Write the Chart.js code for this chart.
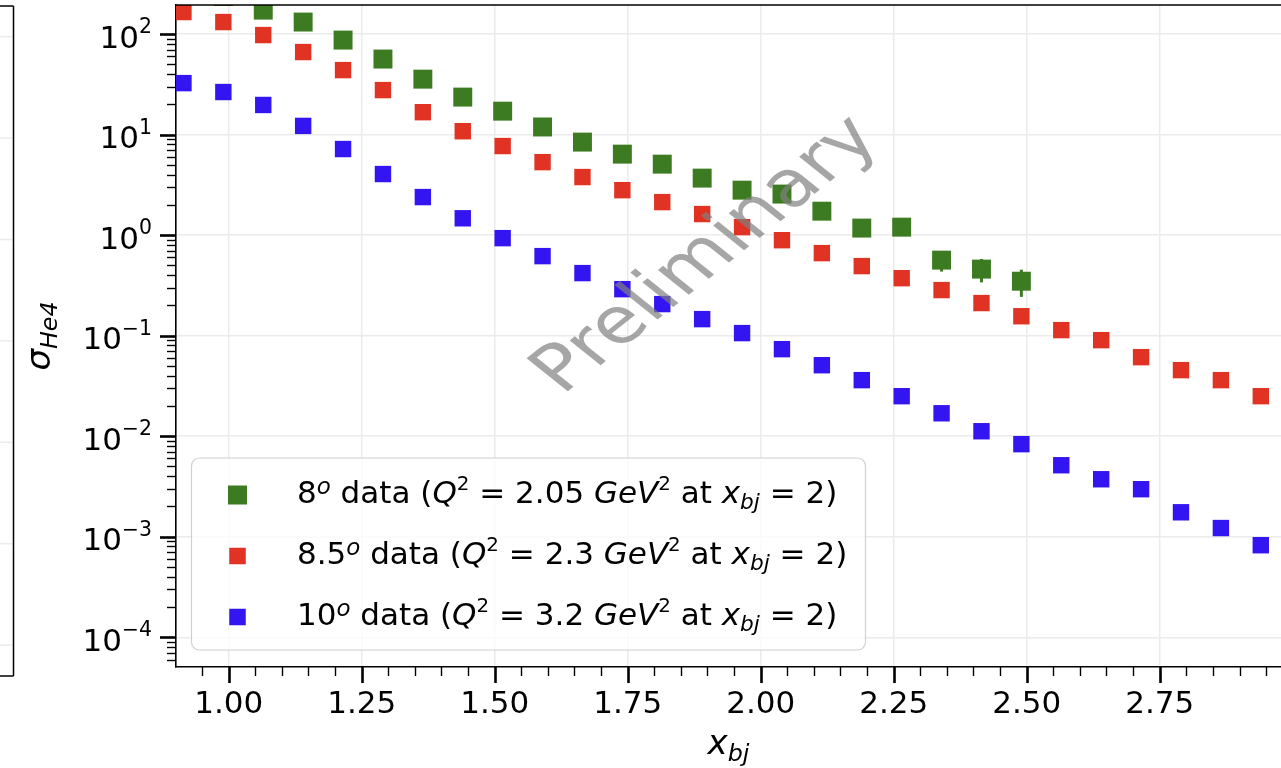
<!DOCTYPE html>
<html>
<head>
<meta charset="utf-8">
<script src="https://cdn.jsdelivr.net/npm/chart.js@4.4.1/dist/chart.umd.min.js"></script>
<style>
  html, body { margin: 0; padding: 0; background: #fff; }
  #wrap { width: 1281px; height: 768px; }
</style>
</head>
<body>
<div id="wrap"><canvas id="grafico" width="1281" height="768"></canvas></div>
<script>
// Bins en x_bj
const xbj = [0.915, 0.990, 1.065, 1.140, 1.215, 1.290, 1.365, 1.440, 1.515, 1.590,
             1.665, 1.740, 1.815, 1.890, 1.965, 2.040, 2.115, 2.190, 2.265, 2.340,
             2.415, 2.490, 2.565, 2.640, 2.715, 2.790, 2.865, 2.940];

// Seccion eficaz He4 por angulo (null = sin dato)
const sigma8 = [null, 236, 173, 131.6, 87.1, 56.4, 35.6, 23.6, 17.1, 11.9,
                8.42, 6.39, 5.08, 3.69, 2.80, 2.56, 1.73, 1.175, 1.20, 0.564,
                0.459, 0.348, null, null, null, null, null, null];
const sigma8Err = [0, 0, 0, 0, 0, 0, 0, 0, 0, 0,
                   0, 0, 0, 0, 0, 0, 0, 0, 0, 0.13,
                   0.12, 0.105, 0, 0, 0, 0, 0, 0];
const sigma85 = [165.5, 131.6, 97.7, 66.2, 43.8, 27.7, 16.7, 10.8, 7.69, 5.32,
                 3.78, 2.80, 2.13, 1.62, 1.20, 0.89, 0.662, 0.492, 0.373, 0.284,
                 0.211, 0.156, 0.1135, 0.0902, 0.0611, 0.0454, 0.0361, 0.0250];
const sigma10 = [32.5, 26.5, 19.7, 12.2, 7.18, 4.05, 2.39, 1.47, 0.933, 0.618,
                 0.419, 0.290, 0.206, 0.146, 0.106, 0.0734, 0.0508, 0.0361, 0.0250, 0.0169,
                 0.0112, 0.00833, 0.00514, 0.00373, 0.00297, 0.00175, 0.00122, 0.000823];

// Ejes
const xTicks = [1.00, 1.25, 1.50, 1.75, 2.00, 2.25, 2.50, 2.75];
const xTickLabels = ['1.00', '1.25', '1.50', '1.75', '2.00', '2.25', '2.50', '2.75'];
const yTicks = [1e-4, 1e-3, 1e-2, 1e-1, 1, 10, 100];
const yTickExp = ['\u22124', '\u22123', '\u22122', '\u22121', '0', '1', '2'];
const xRange = [0.901, 2.978];
const yRange = [5.06e-5, 194.5];

// Leyenda: [texto, estilo]
const legendLabels = [
  [['8', 'n'], ['o', 'supo'], [' data (', 'n'], ['Q', 'i'], ['2', 'sup'], [' = 2.05 ', 'n'],
   ['GeV', 'i'], ['2', 'sup'], [' at ', 'n'], ['x', 'i'], ['bj', 'sub'], [' = 2)', 'n']],
  [['8.5', 'n'], ['o', 'supo'], [' data (', 'n'], ['Q', 'i'], ['2', 'sup'], [' = 2.3 ', 'n'],
   ['GeV', 'i'], ['2', 'sup'], [' at ', 'n'], ['x', 'i'], ['bj', 'sub'], [' = 2)', 'n']],
  [['10', 'n'], ['o', 'supo'], [' data (', 'n'], ['Q', 'i'], ['2', 'sup'], [' = 3.2 ', 'n'],
   ['GeV', 'i'], ['2', 'sup'], [' at ', 'n'], ['x', 'i'], ['bj', 'sub'], [' = 2)', 'n']]
];

const colores = ['#3d7b22', '#e03324', '#3215f0'];
const FONT = '"DejaVu Sans"';

const runStyle = {
  n:    { it: false, k: 1,    dy: 0 },
  i:    { it: true,  k: 1,    dy: 0 },
  sup:  { it: false, k: 0.64, dy: -0.42 },
  supo: { it: true,  k: 0.74, dy: -0.3 },
  tsup: { it: false, k: 0.66, dy: -0.47 },
  sub:  { it: true,  k: 0.7,  dy: 0.2 }
};

// Dibuja texto con partes en cursiva / super / subindice
function drawRuns(ctx, runs, x, y, F, align) {
  const parts = runs.map(([t, s]) => {
    const st = runStyle[s];
    return { t, font: (st.it ? 'italic ' : '') + (F * st.k) + 'px ' + FONT, dy: st.dy * F };
  });
  let w = 0;
  parts.forEach(p => { ctx.font = p.font; p.w = ctx.measureText(p.t).width; w += p.w; });
  let cx = align === 'right' ? x - w : align === 'center' ? x - w / 2 : x;
  ctx.textAlign = 'left';
  ctx.textBaseline = 'alphabetic';
  parts.forEach(p => { ctx.font = p.font; ctx.fillText(p.t, cx, y + p.dy); cx += p.w; });
  return w;
}

function linea(ctx, x1, y1, x2, y2, w, color) {
  ctx.beginPath();
  ctx.lineWidth = w;
  ctx.strokeStyle = color || '#000';
  ctx.moveTo(x1, y1);
  ctx.lineTo(x2, y2);
  ctx.stroke();
}

function puntos(valores) {
  return xbj.map((x, i) => ({ x: x, y: valores[i] })).filter(p => p.y !== null);
}

// Panel vecino recortado a la izquierda
const panelIzquierdo = {
  id: 'panelIzquierdo',
  beforeDraw(chart) {
    const ctx = chart.ctx;
    ctx.save();
    for (let k = 0; k < 7; k++) {
      const gy = 36.7 + k * 101.4;
      linea(ctx, 0, gy, 12, gy, 1.5, '#ebebeb');
    }
    linea(ctx, 13.5, 6, 13.5, 676, 1.5);
    linea(ctx, 0, 6, 13.5, 6, 1.5);
    linea(ctx, 0, 676, 13.5, 676, 1.5);
    ctx.restore();
  }
};

// Barras de error del set de 8 grados
const barrasError = {
  id: 'barrasError',
  beforeDatasetsDraw(chart) {
    const ctx = chart.ctx, xs = chart.scales.x, ys = chart.scales.y, ca = chart.chartArea;
    ctx.save();
    ctx.beginPath();
    ctx.rect(ca.left, ca.top, ca.right - ca.left, ca.bottom - ca.top);
    ctx.clip();
    xbj.forEach((x, i) => {
      const v = sigma8[i], e = sigma8Err[i];
      if (v === null || !e) return;
      const px = xs.getPixelForValue(x);
      linea(ctx, px, ys.getPixelForValue(v + e), px, ys.getPixelForValue(v - e), 3, colores[0]);
    });
    ctx.restore();
  }
};

// Marca de agua
const marcaAgua = {
  id: 'marcaAgua',
  afterDatasetsDraw(chart) {
    const ctx = chart.ctx;
    ctx.save();
    ctx.translate(722, 268);
    ctx.scale(1.25, 1);
    ctx.rotate(-Math.PI / 4);
    ctx.font = '64px ' + FONT;
    ctx.fillStyle = 'rgba(128,128,128,0.7)';
    ctx.textAlign = 'center';
    ctx.textBaseline = 'alphabetic';
    ctx.fillText('Preliminary', 0, 0);
    ctx.restore();
  }
};

// Ticks estilo matplotlib, etiquetas del eje y, titulos y leyenda
const decoracion = {
  id: 'decoracion',
  afterDraw(chart) {
    const ctx = chart.ctx, xs = chart.scales.x, ys = chart.scales.y, ca = chart.chartArea;
    ctx.save();
    // borde superior
    linea(ctx, ca.left, ca.top, ca.right, ca.top, 1.6);

    // ticks y
    yTicks.forEach(v => {
      const py = Math.round(ys.getPixelForValue(v)) + 0.5;
      linea(ctx, ca.left - 16, py, ca.left, py, 2.6);
    });
    const e0 = Math.floor(Math.log10(yRange[0])), e1 = Math.ceil(Math.log10(yRange[1]));
    for (let e = e0; e <= e1; e++) {
      for (let m = 2; m <= 9; m++) {
        const v = m * Math.pow(10, e);
        if (v < yRange[0] || v > yRange[1]) continue;
        const py = Math.round(ys.getPixelForValue(v)) + 0.5;
        linea(ctx, ca.left - 9, py, ca.left, py, 1.4);
      }
    }
    // ticks x
    xTicks.forEach(v => {
      const px = Math.round(xs.getPixelForValue(v)) + 0.5;
      linea(ctx, px, ca.bottom, px, ca.bottom + 16, 2.6);
    });
    for (let k = Math.ceil(xRange[0] / 0.05); k * 0.05 <= xRange[1]; k++) {
      if (k % 5 === 0) continue;
      const px = Math.round(xs.getPixelForValue(k * 0.05)) + 0.5;
      linea(ctx, px, ca.bottom, px, ca.bottom + 9, 1.4);
    }

    // etiquetas y
    ctx.fillStyle = '#000';
    yTicks.forEach((v, i) => {
      const py = ys.getPixelForValue(v);
      drawRuns(ctx, [['10', 'n'], [yTickExp[i], 'tsup']], 152, py + 13.5, 31, 'right');
    });

    // titulos
    drawRuns(ctx, [['x', 'i'], ['bj', 'sub']], (ca.left + ca.right) / 2, 754, 34, 'center');
    ctx.save();
    ctx.translate(50, (ca.top + ca.bottom) / 2);
    ctx.rotate(-Math.PI / 2);
    drawRuns(ctx, [['\u03c3', 'i'], ['He4', 'sub']], 0, 0, 34, 'center');
    ctx.restore();

    // leyenda
    ctx.beginPath();
    ctx.roundRect(191.5, 458, 674, 192, 8);
    ctx.fillStyle = 'rgba(255,255,255,0.8)';
    ctx.fill();
    ctx.lineWidth = 1.2;
    ctx.strokeStyle = '#d0d0d0';
    ctx.stroke();
    const lados = [19, 16.5, 16.5];
    legendLabels.forEach((runs, i) => {
      const base = 503 + i * 61;
      const s = lados[i];
      ctx.fillStyle = colores[i];
      ctx.fillRect(237.5 - s / 2, base - 8 - s / 2, s, s);
      ctx.fillStyle = '#000';
      drawRuns(ctx, runs, 297, base, 31, 'left');
    });
    ctx.restore();
  }
};

document.addEventListener('DOMContentLoaded', function() {
  const ctx = document.getElementById('grafico').getContext('2d');

  new Chart(ctx, {
    type: 'scatter',
    data: {
      datasets: [
        { label: '8 deg', data: puntos(sigma8), backgroundColor: colores[0], pointRadius: 13.4 },
        { label: '8.5 deg', data: puntos(sigma85), backgroundColor: colores[1], pointRadius: 11.6 },
        { label: '10 deg', data: puntos(sigma10), backgroundColor: colores[2], pointRadius: 11.6 }
      ].map(d => Object.assign(d, {
        pointStyle: 'rect',
        borderWidth: 0,
        pointHoverRadius: d.pointRadius,
        clip: 0
      }))
    },
    options: {
      responsive: false,
      animation: false,
      events: [],
      layout: { autoPadding: false, padding: { top: 5, left: 0, right: 0, bottom: 0 } },
      plugins: {
        legend: { display: false },
        tooltip: { enabled: false }
      },
      scales: {
        x: {
          type: 'linear',
          min: xRange[0],
          max: xRange[1],
          bounds: 'data',
          afterBuildTicks: axis => { axis.ticks = xTicks.map(v => ({ value: v })); },
          afterFit: axis => { axis.height = 101; },
          grid: { color: '#ebebeb', lineWidth: 1.5, drawTicks: false },
          border: { display: true, color: '#000', width: 1.6 },
          ticks: {
            autoSkip: false,
            maxRotation: 0,
            padding: 19,
            color: '#000',
            font: { family: 'DejaVu Sans', size: 31 },
            callback: (v, i) => xTickLabels[i]
          }
        },
        y: {
          type: 'logarithmic',
          min: yRange[0],
          max: yRange[1],
          bounds: 'data',
          afterBuildTicks: axis => { axis.ticks = yTicks.map(v => ({ value: v })); },
          afterFit: axis => { axis.width = 176; },
          grid: { color: '#ebebeb', lineWidth: 1.5, drawTicks: false },
          border: { display: true, color: '#000', width: 1.6 },
          ticks: { display: false }
        }
      }
    },
    plugins: [panelIzquierdo, barrasError, marcaAgua, decoracion]
  });
});
</script>
</body>
</html>
